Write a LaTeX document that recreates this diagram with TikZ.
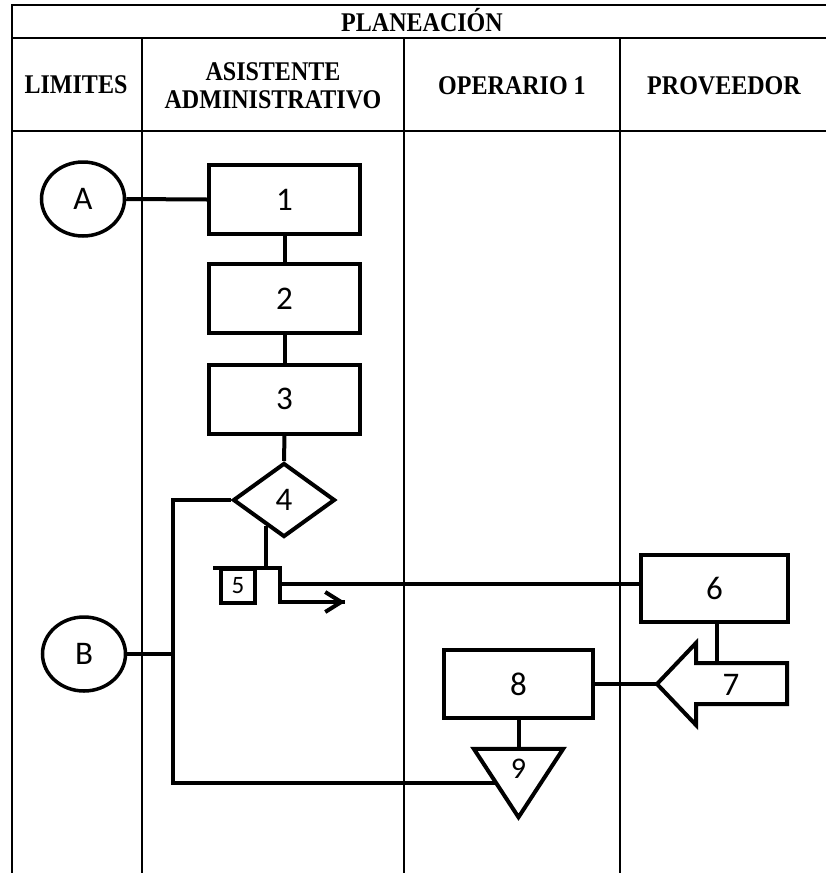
\documentclass[tikz,border=0pt]{standalone}
\usepackage{fontspec}
\setmainfont{Liberation Serif}
\newfontfamily\headfont[FakeStretch=0.89]{Liberation Serif}
\newfontfamily\calib{Carlito}
\usetikzlibrary{shapes.geometric,arrows.meta,calc}
\begin{document}
\begin{tikzpicture}[x=1pt,y=-1pt,
  grid/.style={line width=1.6pt},
  head/.style={font=\headfont\fontsize{27}{27.5}\selectfont\bfseries, align=center, inner sep=0pt},
  flow/.style={line width=4pt, line join=miter},
  lbl/.style={font=\calib\fontsize{33}{36}\selectfont},
  proc/.style={draw, line width=4pt, minimum width=151pt, minimum height=69pt, inner sep=0pt, lbl},
  conn/.style={draw, ellipse, line width=3.5pt, minimum width=83pt, minimum height=74pt, inner sep=0pt, lbl},
  decide/.style={draw, diamond, line width=4pt, minimum width=102pt, minimum height=74pt, inner sep=0pt, lbl}]
\useasboundingbox (0,0) rectangle (826,873);

% swimlane table
\draw[grid] (826,5) -- (12,5) -- (12,873);
\draw[grid] (12,38) -- (826,38);
\draw[grid] (12,131) -- (826,131);
\draw[grid] (142,38) -- (142,873);
\draw[grid] (404,38) -- (404,873);
\draw[grid] (620,38) -- (620,873);

\node[head, text height=18pt, text depth=0pt] (title) at (422,22) {PLANEACIÓN};
\node[head] (hlim) at (76,85) {LIMITES};
\node[head] (hasis) at (273,86) {ASISTENTE\\ADMINISTRATIVO};
\node[head] (hop) at (512,86) {OPERARIO 1};
\node[head] (hprov) at (724,86) {PROVEEDOR};

% connectors A and B
\node[conn] (A) at (83,199) {A};
\node[conn] (B) at (84,654) {B};

% administrative assistant lane
\node[proc] (p1) at (284.5,199.5) {1};
\node[proc] (p2) at (284.5,298.5) {2};
\node[proc] (p3) at (284.5,399) {3};
\node[decide] (d4) at (284,500) {4};

\draw[flow] (A.east) -- (p1.west);
\draw[flow] (p1.south) -- (p2.north);
\draw[flow] (p2.south) -- (p3.north);
\draw[flow] (p3.south) -- (d4.north);

% document symbol 5 with outgoing flow
\node[draw, line width=3.5pt, minimum width=34pt, minimum height=34pt, inner sep=0pt,
      font=\calib\fontsize{25}{27}\selectfont] (b5) at (238,586) {5};
\coordinate (barL) at (213,568);
\coordinate (barR) at (280,568);
\coordinate (drop) at (280,602);
\coordinate (out) at (345,602);
\coordinate (d4exit) at ($(d4.west)!0.667!(d4.south)$);
\draw[flow] (d4exit) -- (d4exit |- barL);
\draw[flow] (barL) -- (barR) -- (drop) -- (out);
\draw[line width=4pt, -{Straight Barb[length=16pt,width=20pt]}] ($(out)+(-6,0)$) -- (out);
\coordinate (j6) at (280,584);

% supplier lane
\node[proc, minimum width=147pt, minimum height=67pt] (p6) at (714.5,588.5) {6};
\draw[flow] (j6) -- (j6 -| p6.west);

\coordinate (a7tip) at (657,684);
\draw[line width=4pt, line join=miter]
  (a7tip) -- (696,643) -- (696,663) -- (787,663) -- (787,704) -- (696,704) -- (696,725) -- cycle;
\node[lbl] (n7) at (731,685) {7};
\coordinate (a7top) at (717,663);
\draw[flow] (a7top |- p6.south) -- (a7top);

% operator lane
\node[proc, minimum width=149pt, minimum height=68pt] (p8) at (518.5,684) {8};
\draw[flow] (a7tip) -- (a7tip -| p8.east);

\node[minimum width=89pt, minimum height=68pt, inner sep=0pt] (t9) at (518.5,783) {};
\draw[line width=4pt, line join=miter] (t9.north west) -- (t9.north east) -- (t9.south) -- cycle;
\node[font=\calib\fontsize{30}{32}\selectfont] (n9) at (518.5,769) {9};
\draw[flow] (p8.south) -- (t9.north);

% return loop along the left rail
\coordinate (rail) at (173,0);
\coordinate (t9in) at ($(t9.north west)!0.5!(t9.south)$);
\draw[flow] (d4.west) -- (d4.west -| rail) -- (rail |- t9in) -- (t9in);
\draw[flow] (B.east) -- (B.east -| rail);
\end{tikzpicture}
\end{document}
